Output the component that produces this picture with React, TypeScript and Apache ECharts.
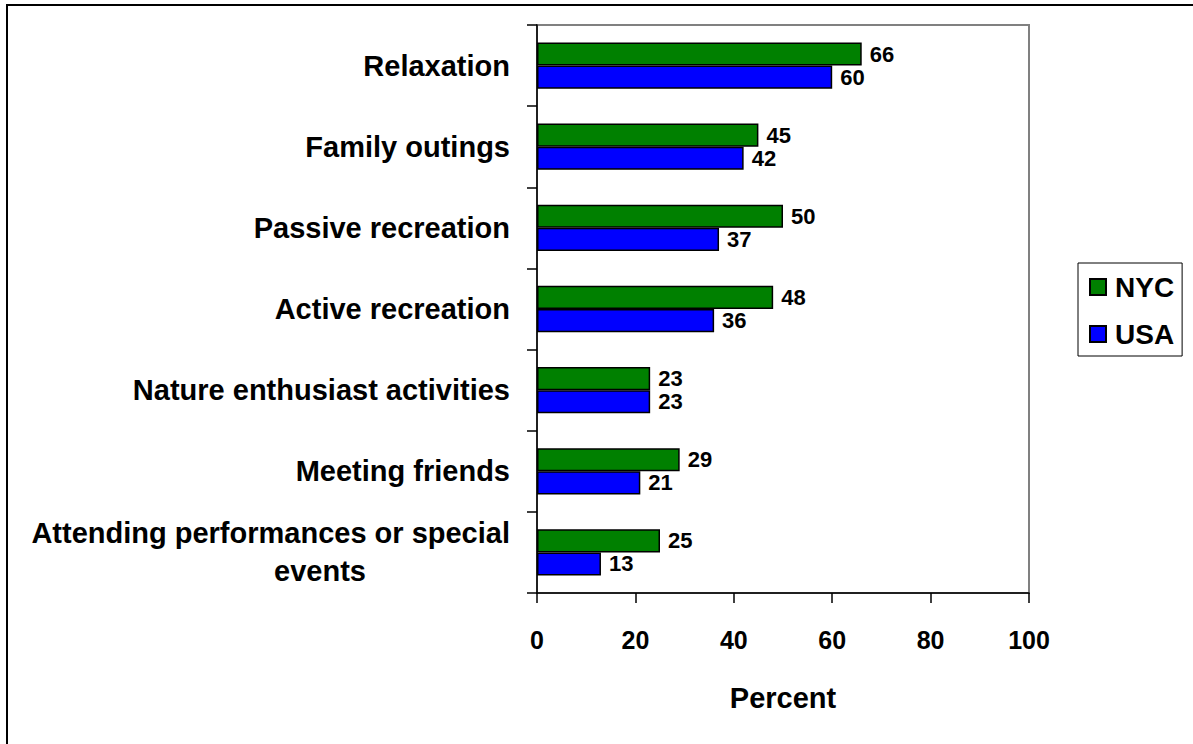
import React, { useEffect, useRef } from "react";
import * as echarts from "echarts";

const categories = [
  "Relaxation",
  "Family outings",
  "Passive recreation",
  "Active recreation",
  "Nature enthusiast activities",
  "Meeting friends",
  "Attending performances or special events",
];
const nycValues = [66, 45, 50, 48, 23, 29, 25];
const usaValues = [60, 42, 37, 36, 23, 21, 13];
const xTicks = [0, 20, 40, 60, 80, 100];

const FONT = "Liberation Sans, Arial, sans-serif";

export default function App() {
  const ref = useRef<HTMLDivElement>(null);
  useEffect(() => {
    document.body.style.margin = "0";
    const chart = echarts.init(ref.current!, null, { renderer: "svg" });
    const labelStyle = {
      show: true,
      position: "right" as const,
      distance: 8,
      color: "#000",
      fontFamily: FONT,
      fontWeight: "bold" as const,
      fontSize: 22,
      lineHeight: 20,
    };
    chart.setOption({
      animation: false,
      backgroundColor: "#fff",
      textStyle: { fontFamily: FONT },
      graphic: [
        {
          type: "rect",
          shape: { x: 7, y: 5, width: 1220, height: 780 },
          style: { fill: "none", stroke: "#000", lineWidth: 2 },
          silent: true,
          z: 100,
        },
      ],
      grid: {
        left: 537,
        top: 25,
        width: 492,
        height: 568,
        show: true,
        borderColor: "#808080",
        borderWidth: 2,
        backgroundColor: "#fff",
      },
      legend: {
        orient: "vertical",
        left: 1078,
        top: 263,
        padding: [10, 8, 8, 11],
        itemGap: 19,
        itemWidth: 16,
        itemHeight: 16,
        borderColor: "#000",
        borderWidth: 1,
        icon: "rect",
        textStyle: {
          fontFamily: FONT,
          fontWeight: "bold",
          fontSize: 28,
          color: "#000",
          padding: [0, 0, 0, 4],
        },
        data: ["NYC", "USA"],
      },
      xAxis: {
        type: "value",
        min: 0,
        max: 100,
        interval: 20,
        name: "Percent",
        nameLocation: "middle",
        nameGap: 90,
        nameTextStyle: {
          fontFamily: FONT,
          fontWeight: "bold",
          fontSize: 29,
          color: "#000",
        },
        axisLine: { show: true, lineStyle: { color: "#000", width: 1.5 } },
        axisTick: { show: true, length: 10, lineStyle: { color: "#000", width: 1.5 } },
        splitLine: { show: false },
        axisLabel: {
          margin: 34,
          fontFamily: FONT,
          fontWeight: "bold",
          fontSize: 25,
          color: "#000",
          formatter: (v: number) => (xTicks.includes(v) ? String(v) : ""),
        },
      },
      yAxis: {
        type: "category",
        inverse: true,
        data: categories,
        axisLine: { show: true, lineStyle: { color: "#000", width: 1.5 } },
        axisTick: { show: true, length: 10, lineStyle: { color: "#000", width: 1.5 } },
        axisLabel: {
          margin: 27,
          fontFamily: FONT,
          fontWeight: "bold",
          fontSize: 29,
          color: "#000",
          lineHeight: 38,
          formatter: (v: string) =>
            v === "Attending performances or special events"
              ? "Attending performances or special\n{e|events}"
              : v,
          rich: {
            e: {
              fontFamily: FONT,
              fontWeight: "bold",
              fontSize: 29,
              color: "#000",
              lineHeight: 38,
              padding: [0, 144, 0, 0],
            },
          },
        },
      },
      series: [
        {
          name: "NYC",
          type: "bar",
          data: nycValues,
          barGap: "0%",
          barCategoryGap: "43%",
          itemStyle: { color: "#008000", borderColor: "#000", borderWidth: 1.5 },
          label: labelStyle,
        },
        {
          name: "USA",
          type: "bar",
          data: usaValues,
          barGap: "0%",
          barCategoryGap: "43%",
          itemStyle: { color: "#0000FF", borderColor: "#000", borderWidth: 1.5 },
          label: labelStyle,
        },
      ],
    });
    return () => chart.dispose();
  }, []);
  return <div ref={ref} style={{ width: 1193, height: 744 }} />;
}
